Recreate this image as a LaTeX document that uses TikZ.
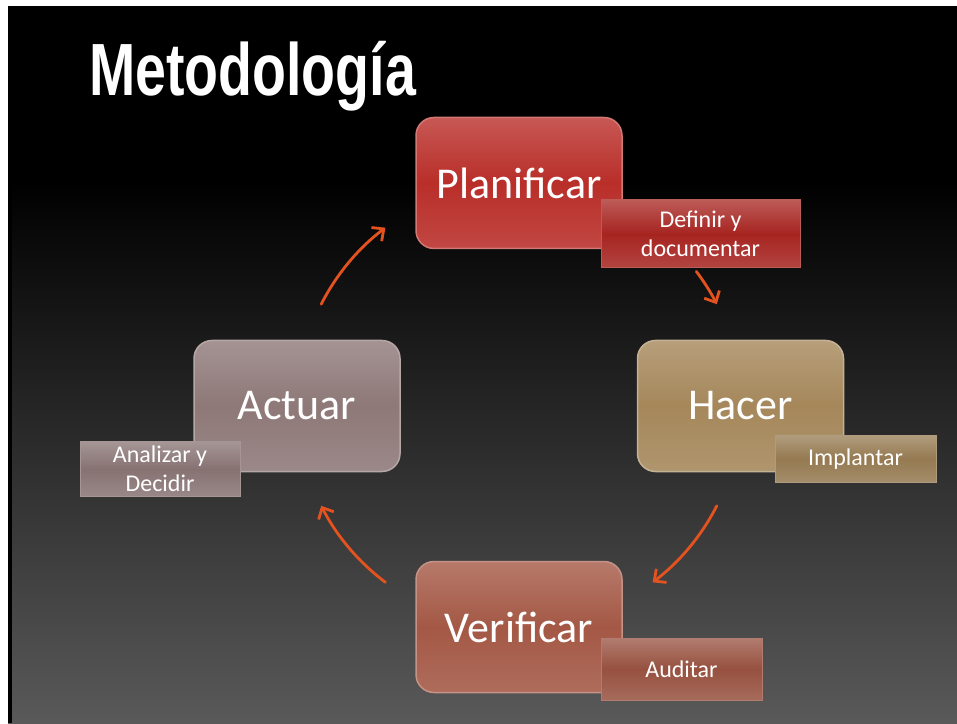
\documentclass[tikz,border=0pt]{standalone}
\usepackage{fontspec}
\setmainfont{Carlito}
\newfontfamily\titlefont{Liberation Sans}
\usetikzlibrary{arrows.meta,calc}

\definecolor{planred}{HTML}{B92E29}
\definecolor{dored}{HTML}{A62420}
\definecolor{hacertan}{HTML}{A5875A}
\definecolor{verirust}{HTML}{A45845}
\definecolor{actuarmauve}{HTML}{8E7878}
\definecolor{bggrey}{HTML}{595959}
\definecolor{arroworange}{HTML}{E4521F}

\tikzset{
  phase/.style={rectangle, rounded corners=18pt, minimum width=206pt,
    minimum height=131pt, inner sep=0pt, text=white,
    font=\fontsize{44}{50}\selectfont, line width=1.5pt,
    top color=#1!80!white, bottom color=#1!88!white, middle color=#1,
    draw=#1!65!white},
  task/.style={rectangle, inner sep=0pt, text=white, align=center,
    font=\fontsize{24}{29}\selectfont, line width=1pt,
    top color=#1!75!white, bottom color=#1!85!white, middle color=#1,
    draw=#1!75!white},
  cyclearrow/.style={draw=arroworange, line width=2.8pt, line cap=round,
    -{Straight Barb[length=9pt,width=17pt]}}
}

\begin{document}
\begin{tikzpicture}[x=1pt,y=1pt]
    % slide background
    \fill[white] (0,0) rectangle (957,723);
    \fill[black] (8,543) rectangle (957,717);
    \shade[top color=black, bottom color=bggrey] (8,0) rectangle (957,543);
    \fill[black] (8,0) rectangle (12,543);

    \node[anchor=base west, inner sep=0pt, text=white] (title) at (89,627)
        {\scalebox{0.75}[1]{\titlefont\bfseries\fontsize{74}{80}\selectfont Metodología}};

    % cycle arrows on a ring round the centre
    \coordinate (ring) at (519,318);
    \draw[cyclearrow] ($(ring)+(37:222)$) arc[start angle=37, end angle=27, radius=222];
    \draw[cyclearrow] ($(ring)+(-27:222)$) arc[start angle=-27, end angle=-53, radius=222];
    \draw[cyclearrow] ($(ring)+(233:222)$) arc[start angle=233, end angle=207, radius=222];
    \draw[cyclearrow] ($(ring)+(153:222)$) arc[start angle=153, end angle=127, radius=222];

    % phases
    \node[phase=planred] (plan) at (519,540) {Planificar};
    \node[task=dored, minimum width=199pt, minimum height=68pt] (plantask) at (700.5,489)
        {Definir y\\documentar};

    \node[phase=hacertan] (hacer) at (740.5,317) {Hacer};
    \node[task=hacertan!90!black, minimum width=161pt, minimum height=46pt] (hacertask) at (855.5,264)
        {Implantar};

    \node[phase=verirust] (verif) at (519,96) {Verificar};
    \node[task=verirust!92!black, minimum width=161pt, minimum height=62pt] (veriftask) at (681.5,54)
        {Auditar};

    \node[phase=actuarmauve] (actuar) at (297,317) {Actuar};
    \node[task=actuarmauve!95!black, minimum width=160pt, minimum height=54pt] (actuartask) at (160,254)
        {Analizar y\\Decidir};
\end{tikzpicture}
\end{document}
